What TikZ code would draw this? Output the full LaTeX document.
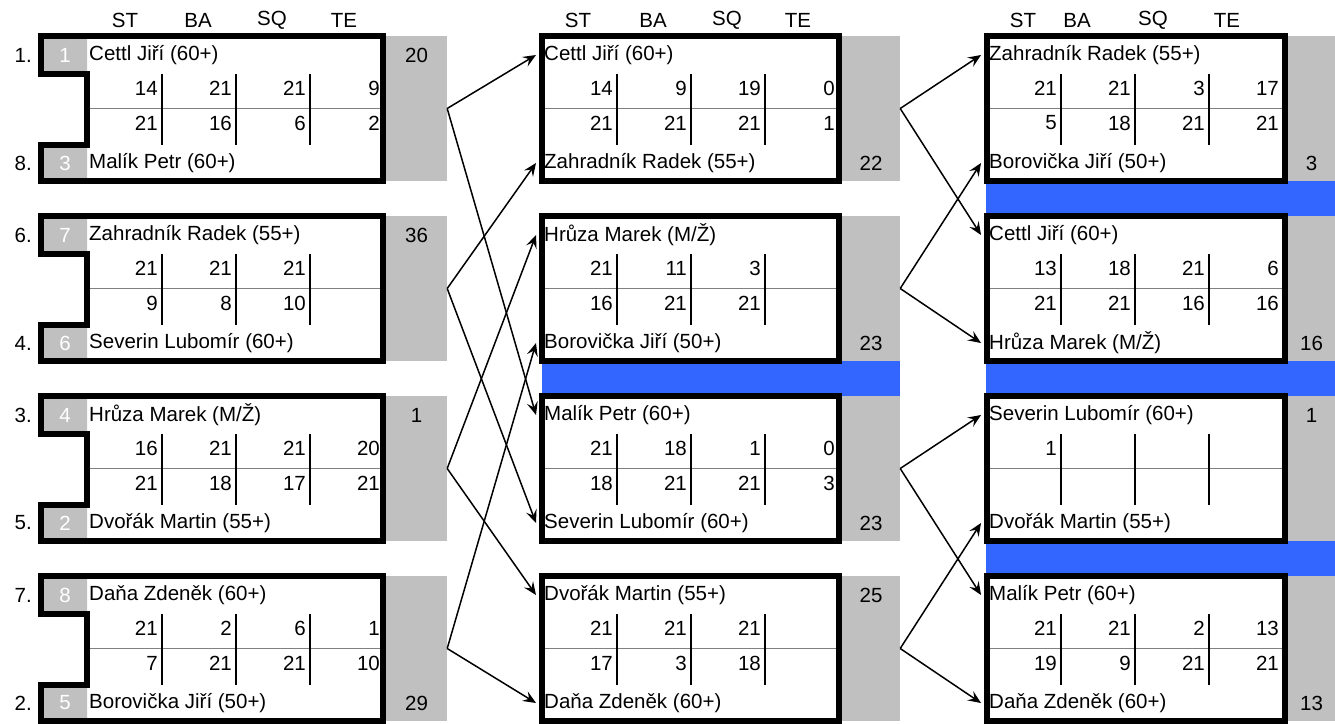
\documentclass[tikz,border=0pt]{standalone}
\usepackage{fontspec}
\setmainfont{Liberation Sans}
\usetikzlibrary{arrows.meta}
\definecolor{cellgray}{HTML}{C0C0C0}
\definecolor{barblue}{HTML}{3366FF}

\begin{document}
\begin{tikzpicture}[x=1pt, y=-1pt,
  font=\fontsize{20.5}{24}\selectfont,
  boxframe/.style={line width=6pt},
  gbox/.style={fill=cellgray, minimum height=145pt, inner sep=0pt},
  pname/.style={anchor=west, inner xsep=8pt, inner ysep=0pt},
  pscore/.style={anchor=east, inner sep=0pt},
  seedno/.style={text=white, inner sep=0pt},
  seedlbl/.style={anchor=east, inner sep=0pt},
  divider/.style={line width=1.4pt},
  midline/.style={line width=1.4pt, gray},
  arr/.style={-{Stealth[length=13pt, width=11pt, inset=5pt]}, line width=1.5pt}
]
\useasboundingbox (0,0) rectangle (1335,723);

% column headers
\foreach \t/\x in {ST/125, BA/198, SQ/272, TE/344, ST/578, BA/653, SQ/727, TE/798,
                   ST/1023, BA/1077, SQ/1153, TE/1227}
  \node (h\x) at (\x,20) {\t};

% blue separators
\fill[barblue] (542,361) rectangle (900,396);
\fill[barblue] (986,181) rectangle (1335,216) (986,361) rectangle (1335,396)
  (986,541) rectangle (1335,576);

% first round
\foreach \i/\qa/\ka/\na/\qb/\kb/\nb/\sc/\g/\gp in {
  1/1./1/{Cettl Jiří (60+)}/8./3/{Malík Petr (60+)}/{14,21,21,9,21,16,6,2}/20/55,
  2/6./7/{Zahradník Radek (55+)}/4./6/{Severin Lubomír (60+)}/{21,21,21,,9,8,10,}/36/55,
  3/3./4/{Hrůza Marek (M/Ž)}/5./2/{Dvořák Martin (55+)}/{16,21,21,20,21,18,17,21}/1/55,
  4/7./8/{Daňa Zdeněk (60+)}/2./5/{Borovička Jiří (50+)}/{21,2,6,1,7,21,21,10}/29/163}
{
  \begin{scope}[yshift={-180pt*(\i-1)}]
    \node[gbox, minimum width=61pt] (lg\i) at (416.5,108.5) {};
    \node (lgn\i) at (416.5,\gp) {\g};
    \fill[cellgray] (41,36) rectangle (87,74) (41,145) rectangle (87,181);
    \node[seedno] (lka\i) at (65,55) {\ka};
    \node[seedno] (lkb\i) at (65,163) {\kb};
    \node[seedlbl] (lqa\i) at (32,55) {\qa};
    \node[seedlbl] (lqb\i) at (32,163) {\qb};
    \draw[midline] (87,108.5) -- (386,108.5);
    \foreach \j in {0,1,2}
      \draw[divider] ({162+74*\j},74) -- ++(0,71);
    \foreach \s [count=\k] in \sc
      \node[pscore] (ls\i-\k) at ({158+74*mod(\k-1,4)},{88+35*(\k>4)}) {\s};
    \node[pname] (la\i) at (81,55) {\na};
    \node[pname] (lb\i) at (81,163) {\nb};
    \draw[boxframe] (41,36) -| (383,181) -| (41,145) -- (87,145) -- (87,74)
      -- (41,74) -- cycle;
  \end{scope}
}

% second round
\foreach \i/\na/\nb/\sc/\g/\gp in {
  1/{Cettl Jiří (60+)}/{Zahradník Radek (55+)}/{14,9,19,0,21,21,21,1}/22/163,
  2/{Hrůza Marek (M/Ž)}/{Borovička Jiří (50+)}/{21,11,3,,16,21,21,}/23/163,
  3/{Malík Petr (60+)}/{Severin Lubomír (60+)}/{21,18,1,0,18,21,21,3}/23/163,
  4/{Dvořák Martin (55+)}/{Daňa Zdeněk (60+)}/{21,21,21,,17,3,18,}/25/55}
{
  \begin{scope}[yshift={-180pt*(\i-1)}]
    \node[gbox, minimum width=58pt] (mg\i) at (871,108.5) {};
    \node (mgn\i) at (871,\gp) {\g};
    \draw[midline] (542,108.5) -- (842,108.5);
    \foreach \j in {0,1,2}
      \draw[divider] ({617+74*\j},74) -- ++(0,71);
    \foreach \s [count=\k] in \sc
      \node[pscore] (ms\i-\k) at ({613+74*mod(\k-1,4)},{88+35*(\k>4)}) {\s};
    \node[pname] (ma\i) at (536,55) {\na};
    \node[pname] (mb\i) at (536,163) {\nb};
    \draw[boxframe] (542,36) rectangle (839,181);
  \end{scope}
}

% third round
\foreach \i/\na/\nb/\sc/\g/\gp in {
  1/{Zahradník Radek (55+)}/{Borovička Jiří (50+)}/{21,21,3,17,5,18,21,21}/3/163,
  2/{Cettl Jiří (60+)}/{Hrůza Marek (M/Ž)}/{13,18,21,6,21,21,16,16}/16/163,
  3/{Severin Lubomír (60+)}/{Dvořák Martin (55+)}/{1}/1/55,
  4/{Malík Petr (60+)}/{Daňa Zdeněk (60+)}/{21,21,2,13,19,9,21,21}/13/163}
{
  \begin{scope}[yshift={-180pt*(\i-1)}]
    \node[gbox, minimum width=47pt] (rg\i) at (1311.5,108.5) {};
    \node (rgn\i) at (1311.5,\gp) {\g};
    \draw[midline] (987,108.5) -- (1287,108.5);
    \foreach \j in {0,1,2}
      \draw[divider] ({1061+74*\j},74) -- ++(0,71);
    \foreach \s [count=\k] in \sc
      \node[pscore] (rs\i-\k) at ({1057+74*mod(\k-1,4)},{88+35*(\k>4)}) {\s};
    \node[pname] (ra\i) at (981,55) {\na};
    \node[pname] (rb\i) at (981,163) {\nb};
    \draw[boxframe] (987,36) rectangle (1285,181);
  \end{scope}
}

% draw connections
\draw[arr] (lg1.east) -- (ma1.west);
\draw[arr] (lg1.east) -- (ma3.west);
\draw[arr] (lg2.east) -- (mb1.west);
\draw[arr] (lg2.east) -- (mb3.west);
\draw[arr] (lg3.east) -- (ma2.west);
\draw[arr] (lg3.east) -- (ma4.west);
\draw[arr] (lg4.east) -- (mb2.west);
\draw[arr] (lg4.east) -- (mb4.west);

\draw[arr] (mg1.east) -- (ra1.west);
\draw[arr] (mg1.east) -- (ra2.west);
\draw[arr] (mg2.east) -- (rb1.west);
\draw[arr] (mg2.east) -- (rb2.west);
\draw[arr] (mg3.east) -- (ra3.west);
\draw[arr] (mg3.east) -- (ra4.west);
\draw[arr] (mg4.east) -- (rb3.west);
\draw[arr] (mg4.east) -- (rb4.west);
\end{tikzpicture}
\end{document}
